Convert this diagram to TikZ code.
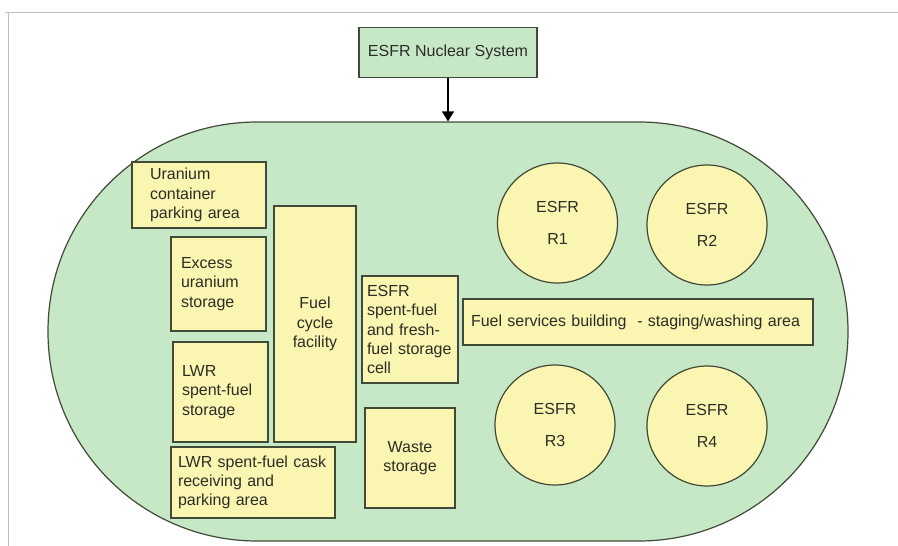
\documentclass[tikz,border=0pt]{standalone}
\usepackage{fontspec}
\setmainfont{Liberation Sans}
\usepackage{xcolor}
\usetikzlibrary{arrows.meta}
\definecolor{sitegreen}{RGB}{198,232,199}
\definecolor{boxyellow}{RGB}{250,245,176}
\definecolor{edgegray}{RGB}{64,74,54}
\definecolor{txtgray}{RGB}{45,45,40}
\definecolor{framegray}{RGB}{190,190,190}

\begin{document}
\begin{tikzpicture}[x=1pt,y=-1pt,
    every node/.style={font=\fontsize{16}{19.3}\selectfont, text=txtgray},
    area/.style={draw=edgegray, line width=1.2pt, fill=boxyellow, inner sep=0pt},
    block/.style={area, align=left},
    reactor/.style={area, circle, minimum size=120pt, align=center}]
    \useasboundingbox (0,0) rectangle (898,546);
    \draw[framegray, line width=1pt] (5,12) -- (898,12);
    \draw[framegray, line width=1pt] (8,12) -- (8,546);
    \node[area, fill=sitegreen, rounded corners=209pt, minimum width=800pt, minimum height=419pt] (site) at (448,331.5) {};
    \node[area, fill=sitegreen, minimum width=178pt, minimum height=50pt] (system) at (448,52.7) {ESFR Nuclear System};
    \draw[-{Triangle[length=10pt,width=12pt]}, line width=1.2pt, black] (system) -- (site);

    \node[block, minimum width=134pt, minimum height=66pt, text width=98pt] (uranium) at (199,195) {Uranium\\container\\parking area};
    \node[block, minimum width=95pt, minimum height=94pt, text width=75pt] (excess) at (218.5,284) {Excess\\uranium\\storage};
    \node[block, minimum width=95pt, minimum height=100pt, text width=77pt] (lwrstore) at (220.5,392) {LWR\\spent-fuel\\storage};
    \node[area, align=center, minimum width=82pt, minimum height=236pt] (fcf) at (315,324) {Fuel\\cycle\\facility};
    \node[block, minimum width=96pt, minimum height=107pt, text width=86pt] (esfrcell) at (410,329.5) {ESFR\\spent-fuel\\and fresh-\\fuel storage\\cell};
    \node[area, align=center, minimum width=90pt, minimum height=100pt] (waste) at (410,458) {Waste\\storage};
    \node[block, minimum width=164pt, minimum height=71pt, text width=150pt] (cask) at (253,482.5) {LWR spent-fuel cask\\receiving and\\parking area};
    \node[block, minimum width=350pt, minimum height=46pt, text width=334pt] (fsb) at (638,322) {Fuel services building\ \ - staging/washing area};

    \node[reactor] (r1) at (557.5,223) {ESFR\\[12pt]R1};
    \node[reactor] (r2) at (707,225) {ESFR\\[12pt]R2};
    \node[reactor] (r3) at (555,425) {ESFR\\[12pt]R3};
    \node[reactor] (r4) at (707,426) {ESFR\\[12pt]R4};
\end{tikzpicture}
\end{document}
